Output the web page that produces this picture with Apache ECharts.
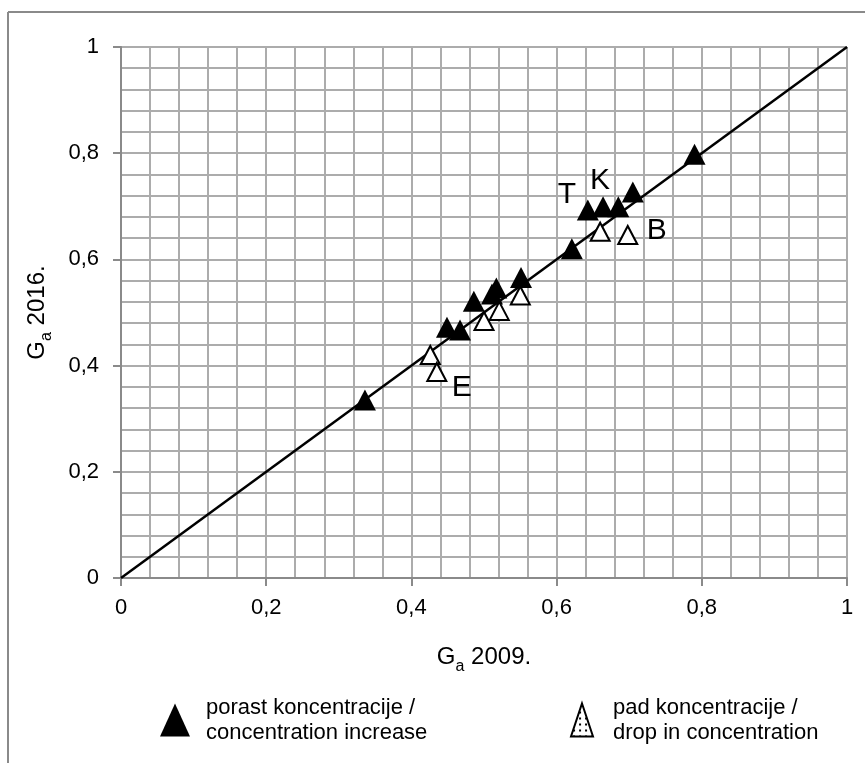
<!DOCTYPE html>
<html>
<head>
<meta charset="utf-8">
<script src="https://cdn.jsdelivr.net/npm/echarts@6/dist/echarts.min.js"></script>
<style>
html,body{margin:0;padding:0;background:#fff;}
#chart{width:865px;height:763px;}
</style>
</head>
<body>
<div id="chart"></div>
<script>
// ---- data ----
var increaseX = [0.336, 0.449, 0.467, 0.486, 0.511, 0.517, 0.551, 0.621, 0.643, 0.664, 0.685, 0.705, 0.790];
var increaseY = [0.335, 0.472, 0.467, 0.521, 0.535, 0.546, 0.566, 0.620, 0.693, 0.699, 0.699, 0.727, 0.798];
var increaseNames = ['', '', '', '', '', '', '', '', 'T', 'K', '', '', ''];
var dropX = [0.426, 0.435, 0.500, 0.521, 0.550, 0.660, 0.698];
var dropY = [0.420, 0.388, 0.484, 0.503, 0.532, 0.652, 0.646];
var dropNames = ['', 'E', '', '', '', '', 'B'];
var lineX = [0, 1];
var lineY = [0, 1];
var seriesNames = ['porast koncentracije /\nconcentration increase', 'pad koncentracije /\ndrop in concentration'];
var xName = '2009.';
var yName = '2016.';

// ---- styles ----
var labelOffsets = { T: [-21, -15], K: [-3, -26], B: [29, -4], E: [25, 16] };
var font = '"Liberation Sans", Arial, sans-serif';

var pc = document.createElement('canvas');
pc.width = 6; pc.height = 6;
var pctx = pc.getContext('2d');
pctx.fillStyle = '#fff'; pctx.fillRect(0, 0, 6, 6);
pctx.fillStyle = '#000'; pctx.fillRect(2, 2, 2, 2);

function build(xs, ys, names) {
  return xs.map(function (x, i) {
    var item = { value: [x, ys[i]] };
    var n = names[i];
    if (n) {
      item.label = {
        show: true, formatter: n, position: 'inside', offset: labelOffsets[n],
        color: '#000', fontSize: 30, fontFamily: font
      };
    }
    return item;
  });
}

function fmt(v) {
  var r = Math.round(v * 10) / 10;
  if (r === 0) return '0';
  if (r === 1) return '1';
  return String(r).replace('.', ',');
}

var axisCommon = {
  type: 'value', min: 0, max: 1, interval: 0.2,
  axisLine: { show: true, onZero: false, lineStyle: { color: '#8a8a8a', width: 2 } },
  axisTick: { show: true, inside: false, length: 8, lineStyle: { color: '#8a8a8a', width: 2 } },
  splitLine: { show: true, lineStyle: { color: '#acacac', width: 2 } },
  minorTick: { show: false, splitNumber: 5 },
  minorSplitLine: { show: true, lineStyle: { color: '#acacac', width: 2 } },
  axisLabel: { formatter: fmt, color: '#000', fontSize: 22, fontFamily: font }
};

var nameRich = {
  g: { fontSize: 24, lineHeight: 24, fontFamily: font, color: '#000', verticalAlign: 'top' },
  s: { fontSize: 16, lineHeight: 30, fontFamily: font, color: '#000', verticalAlign: 'bottom' }
};

var chart = echarts.init(document.getElementById('chart'), null, { renderer: 'canvas' });
chart.setOption({
  backgroundColor: '#fff',
  animation: false,
  grid: { left: 121, right: 18, top: 47, bottom: 185, containLabel: false },
  xAxis: Object.assign({}, axisCommon, {
    axisLabel: Object.assign({}, axisCommon.axisLabel, { margin: 19 }),
    name: '{g|G}{s|a}{g| ' + xName + '}', nameLocation: 'middle', nameGap: 67,
    nameTextStyle: { rich: nameRich }
  }),
  yAxis: Object.assign({}, axisCommon, {
    axisLabel: Object.assign({}, axisCommon.axisLabel, { margin: 22 }),
    name: '{g|G}{s|a}{g| ' + yName + '}', nameLocation: 'middle', nameGap: 66,
    nameTextStyle: { rich: nameRich }
  }),
  legend: [
    {
      data: [seriesNames[0]], left: 155, top: 690, orient: 'horizontal',
      itemWidth: 30, itemHeight: 33, icon: 'triangle',
      textStyle: { color: '#000', fontSize: 22, fontFamily: font, lineHeight: 25, padding: [0, 0, 0, 11] }
    },
    {
      data: [seriesNames[1]], left: 565, top: 690, orient: 'horizontal',
      itemWidth: 22, itemHeight: 33, icon: 'triangle',
      textStyle: { color: '#000', fontSize: 22, fontFamily: font, lineHeight: 25, padding: [0, 0, 0, 15] }
    }
  ],
  graphic: [
    { type: 'line', shape: { x1: 8, y1: 12, x2: 865, y2: 12 }, style: { stroke: '#8a8a8a', lineWidth: 2 } },
    { type: 'line', shape: { x1: 8, y1: 12, x2: 8, y2: 763 }, style: { stroke: '#8a8a8a', lineWidth: 2 } }
  ],
  series: [
    {
      type: 'line', data: lineX.map(function (x, i) { return [x, lineY[i]]; }),
      symbol: 'none', silent: true, lineStyle: { color: '#000', width: 2.5 }, z: 3
    },
    {
      name: seriesNames[0], type: 'scatter', symbol: 'triangle', symbolSize: [22, 21],
      data: build(increaseX, increaseY, increaseNames),
      itemStyle: { color: '#000', opacity: 1 }, z: 4
    },
    {
      name: seriesNames[1], type: 'scatter', symbol: 'triangle', symbolSize: [19, 18],
      data: build(dropX, dropY, dropNames),
      itemStyle: { color: { image: pc, repeat: 'repeat' }, borderColor: '#000', borderWidth: 2, opacity: 1 }, z: 5
    }
  ]
});
</script>
</body>
</html>
